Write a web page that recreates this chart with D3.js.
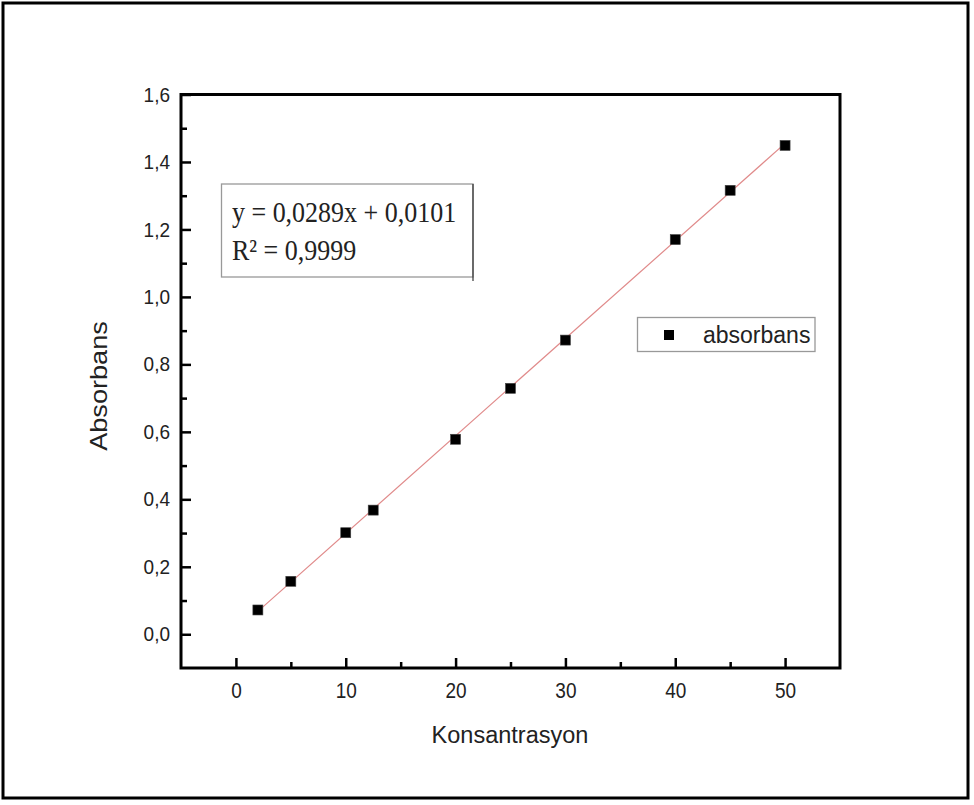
<!DOCTYPE html>
<html>
<head>
<meta charset="utf-8">
<script src="https://cdn.jsdelivr.net/npm/d3@7"></script>
<style>
  html, body { margin: 0; padding: 0; background: #fff; }
  svg { display: block; }
  .tick text { font-family: "Liberation Sans", Arial, sans-serif; fill: #222; }
</style>
</head>
<body>
<svg id="chart" width="974" height="805"></svg>
<script>
// Calibration data: concentration vs. measured absorbance
const concentrations = [2, 5, 10, 12.5, 20, 25, 30, 40, 45, 50];
const absorbance = [0.072, 0.157, 0.301, 0.368, 0.578, 0.729, 0.872, 1.170, 1.316, 1.449];

// Linear fit reported on the chart
const fitSlope = 0.0289;
const fitIntercept = 0.0101;
const fitR2 = 0.9999;

// Axis ticks
const xMajorTicks = [0, 10, 20, 30, 40, 50];
const xMinorTicks = [5, 15, 25, 35, 45];
const yMajorTicks = [0, 0.2, 0.4, 0.6, 0.8, 1.0, 1.2, 1.4, 1.6];
const yMinorTicks = [0.1, 0.3, 0.5, 0.7, 0.9, 1.1, 1.3, 1.5];

const xDomain = [-5, 55];
const yDomain = [-0.1, 1.6];

const xTitle = "Konsantrasyon";
const yTitle = "Absorbans";
const seriesName = "absorbans";

const svg = d3.select("#chart");
const W = 974, H = 805;
const plot = { left: 181, right: 840, top: 94.5, bottom: 668 };

const x = d3.scaleLinear().domain(xDomain).range([plot.left, plot.right]);
const y = d3.scaleLinear().domain(yDomain).range([plot.bottom, plot.top]);

// Turkish-style number formatting (decimal comma)
const trLocale = d3.formatLocale({ decimal: ",", thousands: ".", grouping: [3], currency: ["", " ₺"] });
const fmt1 = trLocale.format(".1f");
const fmt4 = trLocale.format(".4f");

// Outer frame around the figure
svg.append("rect")
  .attr("x", 3).attr("y", 3)
  .attr("width", W - 9).attr("height", H - 10)
  .attr("fill", "none").attr("stroke", "#000").attr("stroke-width", 3);

// Bottom axis: major ticks with labels, then minor ticks
const gx = svg.append("g").attr("transform", `translate(0,${plot.bottom})`);
gx.call(d3.axisBottom(x).tickValues(xMajorTicks).tickSize(-10).tickFormat(d3.format("d")));
gx.selectAll(".tick text")
  .attr("font-size", 19)
  .attr("y", null).attr("dy", null)
  .attr("transform", "translate(0,30) scale(1,1.14)");
const gxm = svg.append("g").attr("transform", `translate(0,${plot.bottom})`);
gxm.call(d3.axisBottom(x).tickValues(xMinorTicks).tickSize(-6).tickFormat(""));

// Left axis
const gy = svg.append("g").attr("transform", `translate(${plot.left},0)`);
gy.call(d3.axisLeft(y).tickValues(yMajorTicks).tickSize(-10).tickPadding(11).tickFormat(fmt1));
gy.selectAll(".tick text")
  .attr("font-size", 19)
  .attr("transform", "scale(1,1.08)");
const gym = svg.append("g").attr("transform", `translate(${plot.left},0)`);
gym.call(d3.axisLeft(y).tickValues(yMinorTicks).tickSize(-6).tickFormat(""));

[gx, gxm, gy, gym].forEach(g => {
  g.select(".domain").remove();
  g.selectAll(".tick line").attr("stroke", "#000").attr("stroke-width", 2.5);
});

// Plot frame
svg.append("rect")
  .attr("x", plot.left).attr("y", plot.top)
  .attr("width", plot.right - plot.left).attr("height", plot.bottom - plot.top)
  .attr("fill", "none").attr("stroke", "#000").attr("stroke-width", 3);

// Fitted regression line across the measured range
const xMin = d3.min(concentrations), xMax = d3.max(concentrations);
svg.append("line")
  .attr("x1", x(xMin)).attr("y1", y(fitSlope * xMin + fitIntercept))
  .attr("x2", x(xMax)).attr("y2", y(fitSlope * xMax + fitIntercept))
  .attr("stroke", "#e08a8a").attr("stroke-width", 1.2);

// Measured points
const ms = 10;
svg.append("g").selectAll("rect")
  .data(concentrations.map((c, i) => [c, absorbance[i]]))
  .join("rect")
  .attr("x", d => x(d[0]) - ms / 2)
  .attr("y", d => y(d[1]) - ms / 2)
  .attr("width", ms).attr("height", ms)
  .attr("fill", "#000").attr("stroke", "#444").attr("stroke-width", 0.6);

// Axis titles
svg.append("text")
  .attr("x", 510).attr("y", 743)
  .attr("text-anchor", "middle")
  .attr("font-family", "Liberation Sans, Arial, sans-serif")
  .attr("font-size", 23.5).attr("fill", "#222")
  .text(xTitle);

svg.append("text")
  .attr("transform", "translate(107,386) rotate(-90) scale(1.18,1)")
  .attr("text-anchor", "middle")
  .attr("font-family", "Liberation Sans, Arial, sans-serif")
  .attr("font-size", 23).attr("fill", "#222")
  .text(yTitle);

// Equation box
const eq = svg.append("g");
eq.append("rect")
  .attr("x", 221.5).attr("y", 184).attr("width", 251.5).attr("height", 93)
  .attr("fill", "#fff").attr("stroke", "#999").attr("stroke-width", 1.3);
eq.append("line")
  .attr("x1", 473).attr("y1", 184).attr("x2", 473).attr("y2", 281)
  .attr("stroke", "#333").attr("stroke-width", 1.2);
const eqText = eq.append("text")
  .attr("transform", "translate(232,222) scale(1,1.14)")
  .attr("font-family", "Liberation Serif, Times New Roman, serif")
  .attr("font-size", 26).attr("fill", "#222");
eqText.append("tspan")
  .attr("x", 0).attr("y", 0)
  .text(`y = ${fmt4(fitSlope)}x + ${fmt4(fitIntercept)}`);
eqText.append("tspan")
  .attr("x", 0).attr("y", 33.5)
  .text(`R² = ${fmt4(fitR2)}`);

// Legend
const lg = svg.append("g");
lg.append("rect")
  .attr("x", 637.5).attr("y", 317.5).attr("width", 177.5).attr("height", 34)
  .attr("fill", "#fff").attr("stroke", "#999").attr("stroke-width", 1.3);
lg.append("rect")
  .attr("x", 669 - ms / 2).attr("y", 335 - ms / 2).attr("width", ms).attr("height", ms)
  .attr("fill", "#000");
lg.append("text")
  .attr("x", 703).attr("y", 343)
  .attr("font-family", "Liberation Sans, Arial, sans-serif")
  .attr("font-size", 23).attr("fill", "#222")
  .text(seriesName);
</script>
</body>
</html>
